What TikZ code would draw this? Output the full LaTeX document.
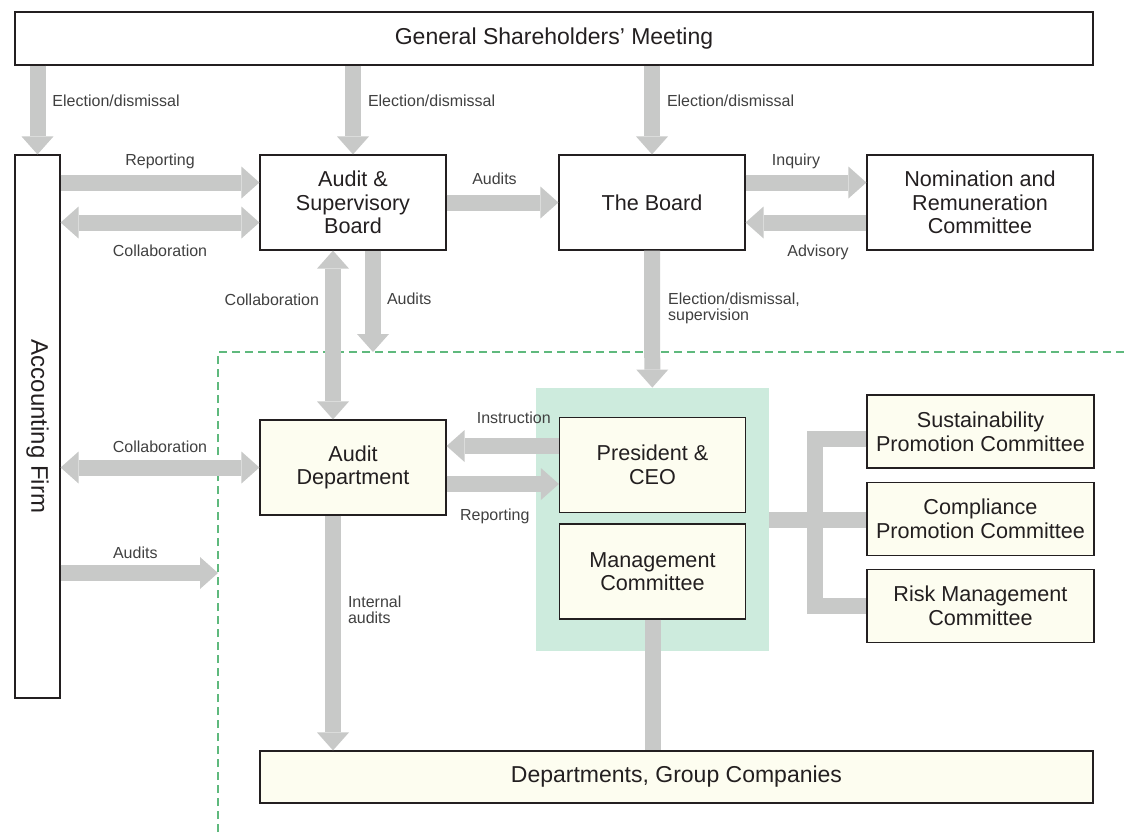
\documentclass[tikz,border=0pt]{standalone}
\usepackage{fontspec}
\setmainfont{Liberation Sans}
\usetikzlibrary{arrows.meta,positioning}

\definecolor{shaft}{RGB}{200,201,200}
\definecolor{cream}{RGB}{253,253,240}
\definecolor{execgreen}{RGB}{205,235,221}
\definecolor{lineg}{RGB}{95,185,125}
\definecolor{ink}{RGB}{35,31,32}
\definecolor{note}{RGB}{64,64,64}

\begin{document}
\begin{tikzpicture}[x=0.5pt, y=-0.5pt,
  >={Triangle[width=16pt,length=9pt,line width=0pt]},
  box/.style={draw=ink, line width=0.6pt, text=ink, align=center, inner sep=2pt,
    minimum width=93pt, minimum height=47.5pt, font=\fontsize{10.8}{11.8}\selectfont},
  filled/.style={box, fill=cream},
  big/.style={font=\fontsize{11.5}{13}\selectfont},
  flow/.style={draw=shaft, line width=8pt},
  lbl/.style={text=note, font=\fontsize{8}{8}\selectfont, inner sep=1pt, outer sep=0pt, align=left}]
  \useasboundingbox (0,0) rectangle (1126,832);

  \draw[lineg, line width=1pt, dash pattern=on 4pt off 2.5pt] (218,832) -- (218,352) -- (1126,352);
  \coordinate (corner) at (218,352);
  \coordinate (gate) at (218,573);
  \coordinate (fork) at (815,519);

  \node[box, big, minimum width=539pt, minimum height=26.5pt] (gsm) at (554,38.5) {General Shareholders' Meeting};
  \node[box, rotate=-90, minimum width=271.5pt, minimum height=22.5pt, font=\fontsize{12}{14}\selectfont] (af) at (37.5,426.5) {Accounting Firm};
  \node[box] (asb) at (353,202.5) {Audit \&\\Supervisory\\Board};
  \node[box] (board) at (652,202.5) {The Board};
  \node[box, minimum width=113pt] (nrc) at (980,202.5) {Nomination and\\Remuneration\\Committee};
  \node[filled] (ad) at (353,467.5) {Audit\\Department};
  \node[fill=execgreen, minimum width=116.5pt, minimum height=131.5pt, inner sep=0pt] (exec) at (652.5,519.5) {};
  \node[filled] (ceo) at (652.5,465) {President \&\\CEO};
  \node[filled] (mc) at (652.5,571.5) {Management\\Committee};
  \node[filled, minimum width=113.5pt, minimum height=36.5pt] (spc) at (980.5,431.5) {Sustainability\\Promotion Committee};
  \node[filled, minimum width=113.5pt, minimum height=36.5pt] (cpc) at (980.5,519) {Compliance\\Promotion Committee};
  \node[filled, minimum width=113.5pt, minimum height=36.5pt] (rmc) at (980.5,606) {Risk Management\\Committee};
  \node[filled, big, minimum width=416.5pt, minimum height=26pt] (dgc) at (676.5,777) {Departments, Group Companies};

  \draw[flow, ->] (gsm.south -| af.west) to node[lbl, pos=0.4, right=6.5pt] {Election/dismissal} (af.west);
  \draw[flow, ->] (gsm.south -| asb) to node[lbl, pos=0.4, right=6.5pt] {Election/dismissal} (asb.north);
  \draw[flow, ->] (gsm.south -| board) to node[lbl, pos=0.4, right=6.5pt] {Election/dismissal} (board.north);

  \draw[flow, ->] ([yshift=10pt]af.north |- asb.west) to node[lbl, above=6pt] {Reporting} ([yshift=10pt]asb.west);
  \draw[flow, <->] ([yshift=-10pt]af.north |- asb.west) to node[lbl, below=10pt] {Collaboration} ([yshift=-10pt]asb.west);
  \draw[flow, ->] (asb) to node[lbl, above=8pt, xshift=-4pt] {Audits} (board);
  \draw[flow, ->] ([yshift=10pt]board.east) to node[lbl, above=6pt, xshift=-5pt] {Inquiry} ([yshift=10pt]nrc.west);
  \draw[flow, ->] ([yshift=-10pt]nrc.west) to node[lbl, below=10pt, xshift=6pt] {Advisory} ([yshift=-10pt]board.east);

  \draw[flow, <->] ([xshift=-10pt]asb.south) to node[lbl, pos=0.29, left=6pt] {Collaboration} ([xshift=-10pt]ad.north);
  \draw[flow, ->] ([xshift=10pt]asb.south) to node[lbl, pos=0.48, right=6pt] {Audits} ([xshift=10pt]asb.south |- corner);
  \draw[flow, ->] (board) to node[lbl, pos=0.42, right=7pt] {Election/dismissal,\\supervision} (exec);

  \draw[flow, <->] (af.north |- ad) to node[lbl, above=6.5pt] {Collaboration} (ad);
  \draw[flow, ->] (af.north |- gate) to node[lbl, above=6pt, xshift=-2pt] {Audits} (gate);
  \draw[flow, ->] ([yshift=9.5pt]ceo.west) to node[lbl, above=10pt, xshift=5.5pt] {Instruction} ([yshift=9.5pt]ceo.west -| ad.east);
  \draw[flow, ->] ([yshift=-9.5pt]ceo.west -| ad.east) to node[lbl, below=11.5pt, xshift=-4pt] {Reporting} ([yshift=-9.5pt]ceo.west);
  \draw[flow, ->] ([xshift=-10pt]ad.south) to node[lbl, pos=0.4, right=6.5pt] {Internal\\audits} ([xshift=-10pt]ad.south |- dgc.north);
  \draw[flow] (mc) -- (mc.south |- dgc.north);

  \draw[flow] (exec.east) -- (exec.east -| cpc.west);
  \draw[flow] ([yshift=-3.75pt]spc.west) -| (fork) |- (rmc.west);
\end{tikzpicture}
\end{document}
